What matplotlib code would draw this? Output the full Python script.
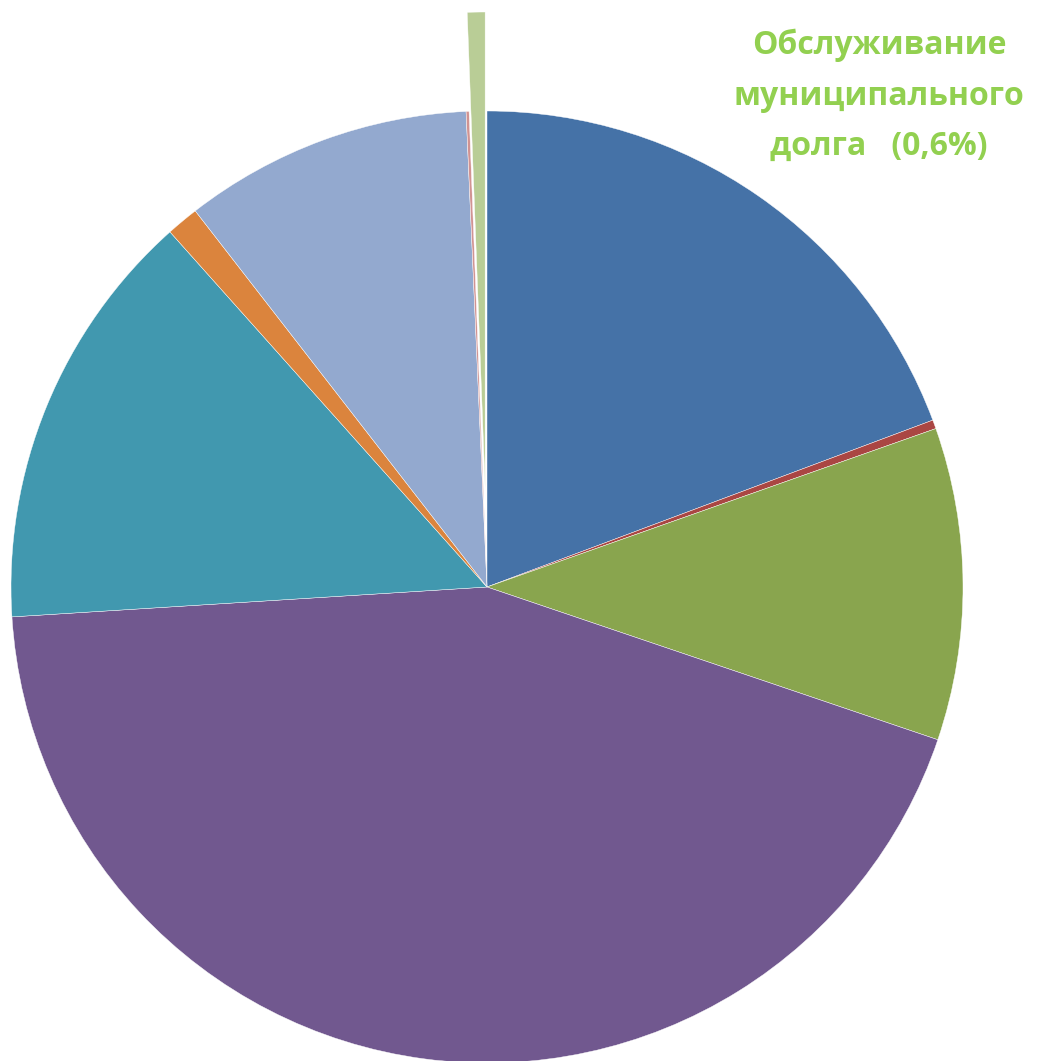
import matplotlib
matplotlib.use("Agg")
import matplotlib.pyplot as plt

# Data (shares in %), clockwise from 12 o'clock
categories = ["Общегосударственные вопросы", "Национальная оборона",
              "Национальная экономика", "Образование", "ЖКХ",
              "Социальная политика", "Культура", "Прочее",
              "Обслуживание муниципального долга"]
values = [19.3, 0.3, 10.6, 43.8, 14.4, 1.1, 9.8, 0.1, 0.6]
colors = ["#4572A7", "#AA4643", "#89A54E", "#71588F", "#4198AF",
          "#DB843D", "#93A9CF", "#D19392", "#B9CD96"]
explode = [0, 0, 0, 0, 0, 0, 0, 0, 0.208]
label_text = "Обслуживание\nмуниципального\nдолга   (0,6%)"

W, H = 1056, 1061
fig = plt.figure(figsize=(W / 100, H / 100), dpi=100)
ax = fig.add_axes([0, 0, 1, 1])

ax.pie(values, colors=colors, explode=explode, startangle=90,
       counterclock=False, radius=1.0,
       wedgeprops=dict(linewidth=0.3, edgecolor="white"))

R = 476.0
cx, cy = 487.0, 1061 - 587.0
ax.set_xlim(-cx / R, (W - cx) / R)
ax.set_ylim(-cy / R, (H - cy) / R)
ax.set_aspect("auto")
ax.axis("off")

fig.text(879 / W, 1 - 96 / H, label_text, ha="center", va="center",
         color="#92D050", fontsize=23, fontweight="bold",
         family=["Open Sans", "DejaVu Sans"], linespacing=1.7)

fig.savefig("out.png", dpi=100)
